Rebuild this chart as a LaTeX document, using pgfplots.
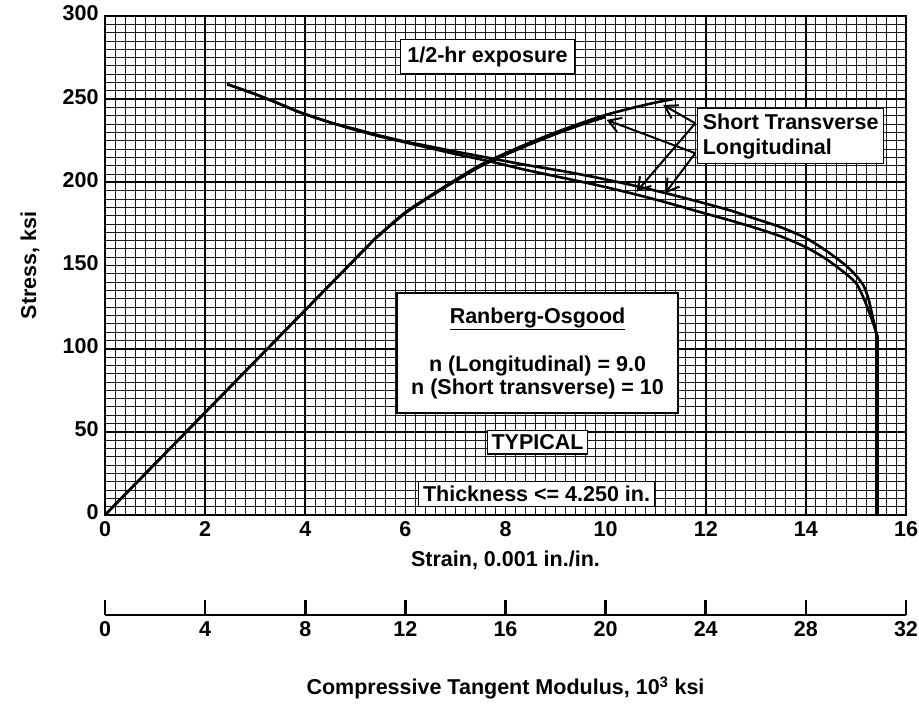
\documentclass[border=0pt]{standalone}
\usepackage{fontspec}
\setmainfont{Liberation Sans}
\usepackage{pgfplots}
\usepackage{pgfplotstable}
\pgfplotsset{compat=1.18}
\usetikzlibrary{arrows.meta}

\pgfplotstableread{
x y
0 0
5.0 154
5.5 169
6.0 182
6.5 192
7.0 201.5
7.5 210.5
8.0 217.5
8.5 224
9.0 230
9.5 235.5
10.0 240.5
10.5 244.5
11.0 248
11.35 250
}\stressST

\pgfplotstableread{
x y
0 0
5.0 154
5.5 168.8
6.0 181.5
6.5 191.5
7.0 200.8
7.5 209.6
8.0 216.6
8.5 223
9.0 229
9.5 234.5
10.0 239.3
}\stressL

\pgfplotstableread{
x y
2.44 259
3.0 253
3.5 247
3.9 242
4.5 236
5.0 232
5.5 228
6.0 224.5
6.5 221.5
7.0 218.5
7.7 214.5
8.4 210.5
9.1 207
9.8 203
10.5 198.5
11.2 193.5
11.9 188
12.5 183
13.0 178
13.5 173
14.0 166.5
14.4 159
14.8 150
15.0 144
15.15 138
15.25 130
15.32 121
15.38 113
15.42 108
}\tanA

\pgfplotstableread{
x y
2.44 259
3.0 253
3.5 247
3.9 242
4.5 236
5.0 231.5
5.5 227.5
6.0 224
6.5 220.5
7.0 217
7.7 212.5
8.4 207.5
9.1 203
9.8 198.5
10.5 193.5
11.2 188
11.9 182
12.5 177
13.0 172.5
13.5 167.5
14.0 161
14.4 154
14.8 145
15.0 139.5
15.1 134
15.2 127
15.3 119
15.38 112
15.42 108
}\tanB

\newcommand{\bfbig}{\bfseries\fontsize{21.5}{25}\selectfont}

\begin{document}
\begin{tikzpicture}
\path[use as bounding box] (-105pt,-200pt) rectangle (814pt,515pt);
\begin{axis}[
  at={(0pt,0pt)}, anchor=south west,
  scale only axis, width=801pt, height=499pt,
  xmin=0, xmax=16, ymin=0, ymax=300,
  xtick distance=2, ytick distance=50,
  minor x tick num=9, minor y tick num=9,
  grid=both,
  major grid style={black, line width=1.7pt},
  minor grid style={black!90, line width=0.8pt},
  major tick length=0pt, minor tick length=0pt,
  axis line style={line width=2.6pt},
  /pgf/number format/assume math mode=true,
  typeset ticklabels with strut,
  tick label style={font=\bfbig},
  yticklabel style={xshift=-3pt},
]
\addplot[black, line width=2.6pt, smooth, tension=0.4, line join=round] table {\stressL};
\addplot[black, line width=2.6pt, smooth, tension=0.4, line join=round] table {\stressST};
\addplot[black, line width=2.6pt, smooth, tension=0.4, line join=round] table {\tanA};
\addplot[black, line width=2.6pt, smooth, tension=0.4, line join=round] table {\tanB};
\addplot[black, line width=3.2pt] coordinates {(15.42,108) (15.42,0)};

\draw[line width=2pt, -{Straight Barb[length=12pt,width=15pt]}] (axis cs:11.79,235.5) -- (axis cs:11.15,246.5);
\draw[line width=2pt, -{Straight Barb[length=12pt,width=15pt]}] (axis cs:11.79,235.5) -- (axis cs:10.62,194.4);
\draw[line width=2pt, -{Straight Barb[length=12pt,width=15pt]}] (axis cs:11.79,217.5) -- (axis cs:10.02,237.5);
\draw[line width=2pt, -{Straight Barb[length=12pt,width=15pt]}] (axis cs:11.79,217.5) -- (axis cs:11.19,193.4);

\node[draw, line width=1.2pt, fill=white, anchor=north west, align=left, inner xsep=5pt, inner ysep=5pt, font=\bfbig] at (axis cs:11.83,244.7) {Short Transverse\\Longitudinal};
\node[draw, line width=1.2pt, fill=white, inner xsep=7pt, inner ysep=7pt, font=\bfbig] at (axis cs:7.64,275.4) {1/2-hr exposure};
\node[draw, line width=1.2pt, fill=white, align=center, font=\bfbig, minimum width=281pt, minimum height=120pt, inner sep=2pt] at (axis cs:8.64,97.4) {\underline{Ranberg-Osgood}\\[23pt] n (Longitudinal) = 9.0\\[-2pt] n (Short transverse) = 10};
\node[draw, line width=1.2pt, fill=white, inner sep=4pt, font=\bfbig] at (axis cs:8.64,43.6) {TYPICAL};
\node[draw, line width=1.2pt, fill=white, inner sep=4.5pt, font=\bfbig] at (axis cs:8.62,12.6) {Thickness <= 4.250 in.};
\end{axis}

\begin{axis}[
  at={(0pt,-100pt)}, anchor=south west,
  scale only axis, width=801pt, height=10pt,
  xmin=0, xmax=32, ymin=0, ymax=1,
  hide y axis,
  axis x line*=bottom,
  xtick distance=4,
  tick align=inside,
  major tick length=15pt,
  x axis line style={line width=2.6pt},
  xtick style={line width=2.6pt, black},
  /pgf/number format/assume math mode=true,
  typeset ticklabels with strut,
  tick label style={font=\bfbig},
]
\addplot[draw=none] coordinates {(0,0) (32,0)};
\end{axis}

\node[font=\bfbig] at (400.5pt,-45pt) {Strain, 0.001 in./in.};
\node[font=\bfbig] at (400.5pt,-173pt) {Compressive Tangent Modulus, 10\textsuperscript{3} ksi};
\node[font=\bfbig, rotate=90] at (-75pt,249.5pt) {Stress, ksi};
\end{tikzpicture}
\end{document}
